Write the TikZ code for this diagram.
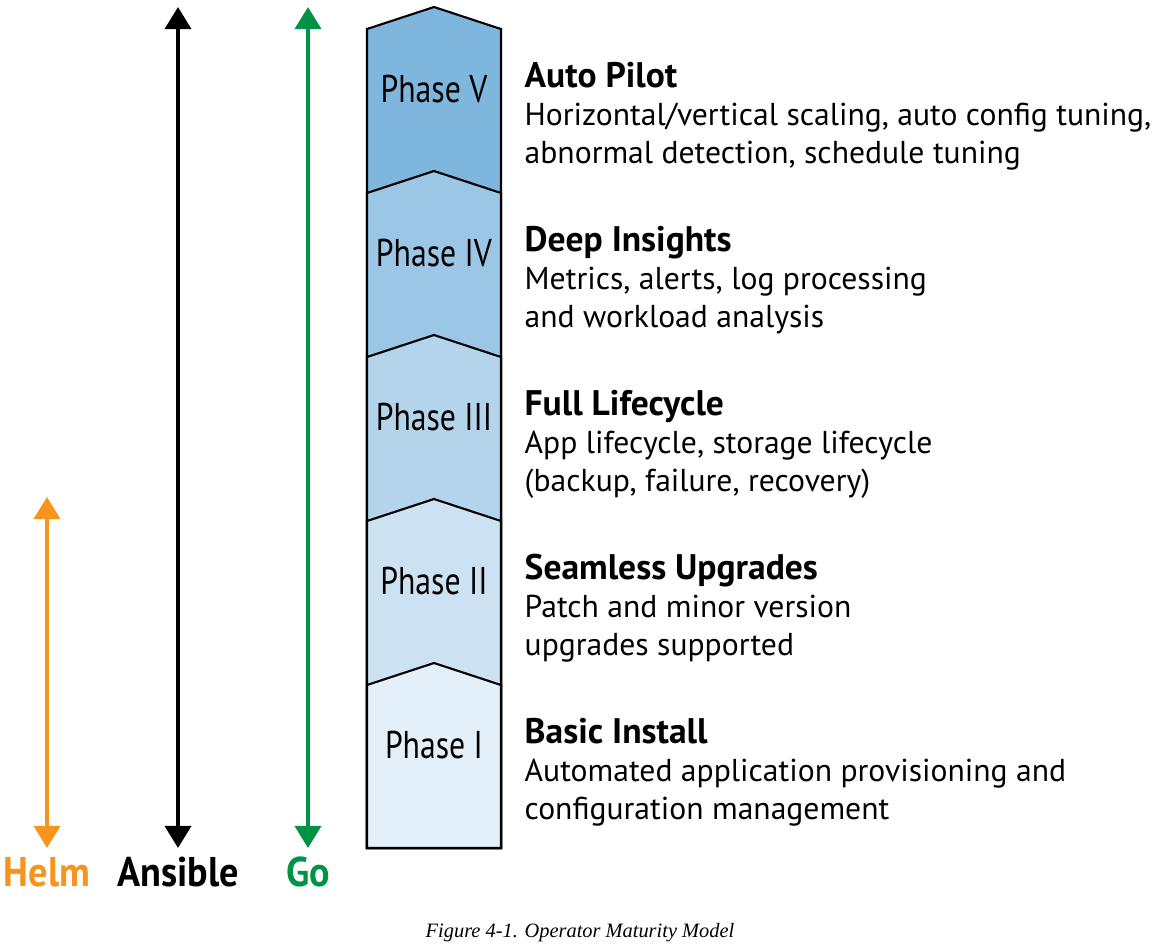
\documentclass[tikz,border=0pt]{standalone}
\usepackage{fontspec}
\setmainfont{PT Sans}
\newfontfamily\phasefont{PT Sans}[FakeStretch=0.82]
\newfontfamily\toolfont{PT Sans}[FakeStretch=0.92]
\newfontfamily\capfont{Liberation Serif}
\usetikzlibrary{arrows.meta}

\definecolor{phaseV}{HTML}{7EB6DE}
\definecolor{phaseIV}{HTML}{9CC6E6}
\definecolor{phaseIII}{HTML}{B3D4EB}
\definecolor{phaseII}{HTML}{CCE2F2}
\definecolor{phaseI}{HTML}{E3EFF9}
\definecolor{helmorange}{HTML}{F7941D}
\definecolor{gogreen}{HTML}{009245}

\newcommand{\headline}[1]{{\bfseries\fontsize{10.1}{10.7}\selectfont #1}}

\begin{document}
\begin{tikzpicture}[x=0.01cm, y=-0.01cm,
  band/.style={draw=black, line width=0.6pt, line join=miter},
  phase/.style={font=\phasefont\fontsize{11}{13}\selectfont},
  desc/.style={anchor=base west, align=left, inner sep=0pt, font=\fontsize{9}{10.7}\selectfont},
  tool/.style={line width=1.15pt, {Triangle[width=7.4pt,length=6.3pt]}-{Triangle[width=7.4pt,length=6.3pt]}},
  toollabel/.style={anchor=base, font=\toolfont\bfseries\fontsize{11.8}{13}\selectfont}]
\useasboundingbox (0,0) rectangle (1159,944);

% the five phases, stacked from the top down
\foreach \ytop/\col/\num in {7/phaseV/V, 171/phaseIV/IV, 335/phaseIII/III, 499/phaseII/II, 663/phaseI/I} {
  \filldraw[band, fill=\col] (367,{\ytop+22}) -- (434,\ytop) -- (501,{\ytop+22}) -- (501,848) -- (367,848) -- cycle;
  \node[phase] (p\num) at (434,{\ytop+82}) {Phase \num};
}

% base anchor sits on the last line
\node[desc] (autopilot) at (524,163) {\headline{Auto Pilot}\\Horizontal/vertical scaling, auto config tuning,\\abnormal detection, schedule tuning};
\node[desc] (insights) at (524,327) {\headline{Deep Insights}\\Metrics, alerts, log processing\\and workload analysis};
\node[desc] (lifecycle) at (524,491) {\headline{Full Lifecycle}\\App lifecycle, storage lifecycle\\(backup, failure, recovery)};
\node[desc] (upgrades) at (524,655) {\headline{Seamless Upgrades}\\Patch and minor version\\upgrades supported};
\node[desc] (install) at (524,819) {\headline{Basic Install}\\Automated application provisioning and\\configuration management};

% tool ranges
\coordinate (helmtop) at (47,497);
\coordinate (helmbot) at (47,848);
\coordinate (ansibletop) at (178,7);
\coordinate (ansiblebot) at (178,848);
\coordinate (gotop) at (308,7);
\coordinate (gobot) at (308,848);
\draw[tool, helmorange] (helmtop) -- (helmbot);
\draw[tool, black] (ansibletop) -- (ansiblebot);
\draw[tool, gogreen] (gotop) -- (gobot);

\node[toollabel, text=helmorange] (helm) at (47,886) {Helm};
\node[toollabel, text=black] (ansible) at (178,886) {Ansible};
\node[toollabel, text=gogreen] (go) at (308,886) {Go};

\node[anchor=base, font=\capfont\itshape\fontsize{5.8}{7}\selectfont] (caption) at (580,937) {Figure 4-1. Operator Maturity Model};
\end{tikzpicture}
\end{document}
